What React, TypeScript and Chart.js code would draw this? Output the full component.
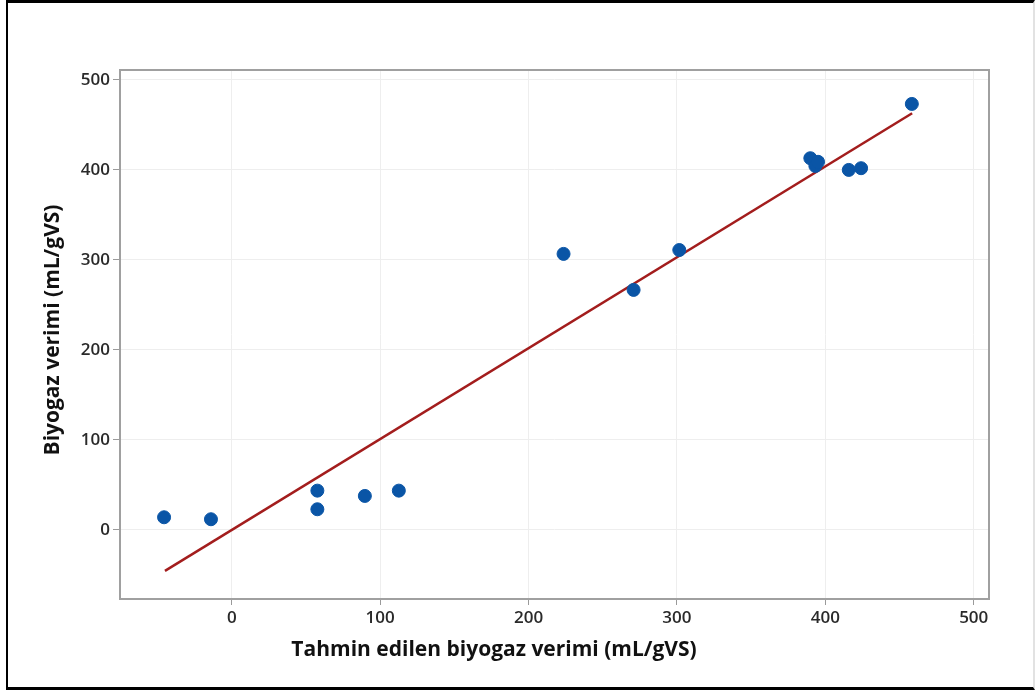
import React, { useEffect, useRef } from "react";
import { Chart, registerables } from "chart.js";

Chart.register(...registerables);

// Data
const predicted = [-45.6, -14.0, 57.7, 57.7, 89.7, 112.6, 223.6, 270.8, 301.6, 389.9, 393.3, 395.1, 415.8, 424.1, 458.3];
const observed = [14.1, 11.9, 43.7, 23.0, 37.8, 43.7, 306.7, 266.7, 311.0, 413.0, 404.4, 409.0, 400.0, 401.9, 473.3];
const fitX = [-45.0, 458.5];
const fitY = [-45.5, 463.0];
const xTicks = [0, 100, 200, 300, 400, 500];
const yTicks = [0, 100, 200, 300, 400, 500];
const xTitle = "Tahmin edilen biyogaz verimi (mL/gVS)";
const yTitle = "Biyogaz verimi (mL/gVS)";

const framePlugin = {
  id: "frameAndTitles",
  beforeDatasetsDraw(chart: any) {
    const { ctx, chartArea: a } = chart;
    ctx.save();
    ctx.strokeStyle = "#a0a0a0";
    ctx.lineWidth = 2;
    ctx.strokeRect(a.left, a.top, a.right - a.left, a.bottom - a.top);
    ctx.restore();
  },
  afterDraw(chart: any) {
    const { ctx } = chart;
    ctx.save();
    ctx.fillStyle = "#111";
    ctx.font = "bold 21px 'Open Sans'";
    ctx.textAlign = "center";
    ctx.textBaseline = "middle";
    ctx.fillText(xTitle, 494, 650);
    ctx.translate(53, 330);
    ctx.rotate(-Math.PI / 2);
    ctx.fillText(yTitle, 0, 0);
    ctx.restore();
  },
};

export default function App() {
  const ref = useRef<HTMLCanvasElement>(null);
  useEffect(() => {
    if (!ref.current) return;
    const chart = new Chart(ref.current, {
      type: "scatter",
      data: {
        datasets: [
          {
            label: "Gözlenen",
            data: predicted.map((x, i) => ({ x, y: observed[i] })),
            backgroundColor: "#0a55a6",
            borderColor: "#0a55a6",
            pointRadius: 6.5,
            pointHoverRadius: 6.5,
            order: 1,
          },
          {
            label: "Uyum",
            type: "line",
            data: fitX.map((x, i) => ({ x, y: fitY[i] })),
            borderColor: "#a31d1d",
            borderWidth: 2.5,
            pointRadius: 0,
            showLine: true,
            fill: false,
            order: 2,
          } as any,
        ],
      },
      options: {
        responsive: false,
        animation: false,
        devicePixelRatio: 1,
        layout: { padding: { left: 0, top: 70, right: 47, bottom: 0 } },
        plugins: { legend: { display: false }, tooltip: { enabled: false } },
        scales: {
          x: {
            type: "linear",
            min: -75.3,
            max: 510.3,
            afterBuildTicks: (s: any) => {
              s.ticks = xTicks.map((v) => ({ value: v }));
            },
            afterFit: (s: any) => {
              s.height = 94;
            },
            grid: { color: "#eeeeee", lineWidth: 1, tickColor: "#9a9a9a", tickLength: 6, drawTicks: true },
            border: { display: false },
            ticks: {
              padding: 3,
              color: "#2a2a2a",
              font: { family: "'Open Sans'", size: 17, weight: "600" },
              maxRotation: 0,
            },
            title: { display: false },
          },
          y: {
            type: "linear",
            min: -76.7,
            max: 511,
            afterBuildTicks: (s: any) => {
              s.ticks = yTicks.map((v) => ({ value: v }));
            },
            afterFit: (s: any) => {
              s.width = 120;
            },
            grid: { color: "#eeeeee", lineWidth: 1, tickColor: "#9a9a9a", tickLength: 7, drawTicks: true },
            border: { display: false },
            ticks: {
              padding: 3,
              color: "#2a2a2a",
              font: { family: "'Open Sans'", size: 17, weight: "600" },
            },
            title: { display: false },
          },
        },
      },
      plugins: [framePlugin],
    });
    return () => chart.destroy();
  }, []);

  return (
    <div style={{ position: "fixed", left: 0, top: 0, width: 1036, height: 693, background: "#fff" }}>
      <div
        style={{
          position: "absolute",
          left: 6,
          top: 0,
          width: 1029,
          height: 690,
          borderLeft: "2px solid #000",
          borderTop: "3px solid #000",
          borderBottom: "3px solid #000",
          borderRight: "2px solid #e2e2e2",
          boxSizing: "border-box",
          pointerEvents: "none",
          zIndex: 1,
        }}
      />
      <canvas ref={ref} width={1036} height={693} style={{ position: "absolute", left: 0, top: 0, display: "block" }} />
    </div>
  );
}
